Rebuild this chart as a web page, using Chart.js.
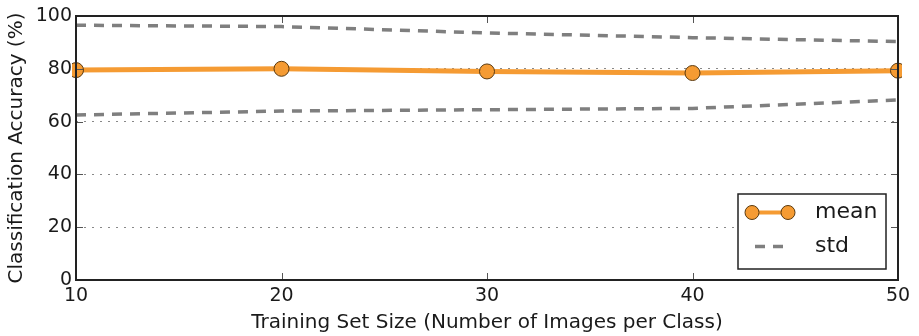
<!DOCTYPE html>
<html>
<head>
<meta charset="utf-8">
<script src="https://cdn.jsdelivr.net/npm/chart.js@4/dist/chart.umd.min.js"></script>
<style>
html,body{margin:0;padding:0;background:#fff;}
#wrap{width:919px;height:336px;position:relative;}
</style>
</head>
<body>
<div id="wrap"><canvas id="c" width="919" height="336"></canvas></div>
<script>
const trainingSizes = [10, 20, 30, 40, 50];
const meanAccuracy = [79.5, 80.0, 79.0, 78.4, 79.3];
const stdUpper = [96.5, 96.0, 93.6, 91.8, 90.3];
const stdLower = [62.5, 64.0, 64.5, 65.0, 68.2];
const yTicks = [0, 20, 40, 60, 80, 100];
const xTicks = [10, 20, 30, 40, 50];

const FONT = "'DejaVu Sans', sans-serif";
const ORANGE = '#f59b33';
const GRAY = '#7f7f7f';
const TEXT = '#1a1a1a';

const pts = arr => trainingSizes.map((x, i) => ({x: x, y: arr[i]}));

const framePlugin = {
  id: 'frame',
  afterDraw(chart) {
    const ctx = chart.ctx, a = chart.chartArea;
    const xs = chart.scales.x, ys = chart.scales.y;
    ctx.save();
    // inward ticks
    ctx.strokeStyle = '#555';
    ctx.lineWidth = 1;
    ctx.beginPath();
    xTicks.forEach(v => {
      const px = Math.round(xs.getPixelForValue(v)) + 0.5;
      ctx.moveTo(px, a.bottom); ctx.lineTo(px, a.bottom - 7);
      ctx.moveTo(px, a.top); ctx.lineTo(px, a.top + 7);
    });
    yTicks.forEach(v => {
      const py = Math.round(ys.getPixelForValue(v)) + 0.5;
      ctx.moveTo(a.left, py); ctx.lineTo(a.left + 7, py);
      ctx.moveTo(a.right, py); ctx.lineTo(a.right - 7, py);
    });
    ctx.stroke();
    // frame
    ctx.strokeStyle = '#222';
    ctx.lineWidth = 2;
    ctx.strokeRect(a.left, a.top, a.right - a.left, a.bottom - a.top);
    // legend
    const bx = 738, by = 194, bw = 148, bh = 75;
    ctx.fillStyle = '#fff';
    ctx.fillRect(bx, by, bw, bh);
    ctx.strokeStyle = '#222';
    ctx.lineWidth = 1.5;
    ctx.strokeRect(bx, by, bw, bh);
    const ds = chart.data.datasets;
    const y1 = 212.5, y2 = 246.5;
    ctx.strokeStyle = ORANGE;
    ctx.lineWidth = 4;
    ctx.beginPath(); ctx.moveTo(752, y1); ctx.lineTo(788, y1); ctx.stroke();
    [752, 788].forEach(cx => {
      ctx.beginPath(); ctx.arc(cx, y1, 7, 0, Math.PI * 2);
      ctx.fillStyle = ORANGE; ctx.fill();
      ctx.strokeStyle = '#5a3a10'; ctx.lineWidth = 1; ctx.stroke();
    });
    ctx.strokeStyle = GRAY;
    ctx.lineWidth = 3.5;
    ctx.setLineDash([10, 8]);
    ctx.beginPath(); ctx.moveTo(755, y2); ctx.lineTo(785, y2); ctx.stroke();
    ctx.setLineDash([]);
    ctx.fillStyle = TEXT;
    ctx.font = '22px ' + FONT;
    ctx.textBaseline = 'middle';
    ctx.textAlign = 'left';
    ctx.fillText(ds[0].label, 815, y1);
    ctx.fillText(ds[1].label, 815, y2);
    ctx.restore();
  }
};

new Chart(document.getElementById('c'), {
  type: 'line',
  data: {
    datasets: [
      {
        label: 'mean',
        data: pts(meanAccuracy),
        borderColor: ORANGE,
        backgroundColor: ORANGE,
        borderWidth: 5,
        pointRadius: 7.5,
        pointBorderColor: '#5a3a10',
        pointBorderWidth: 1,
        pointBackgroundColor: ORANGE,
        tension: 0,
        clip: 4,
        order: 0
      },
      {
        label: 'std',
        data: pts(stdUpper),
        borderColor: GRAY,
        borderWidth: 3.5,
        borderDash: [10, 8],
        pointRadius: 0,
        tension: 0,
        clip: 0,
        order: 1
      },
      {
        label: 'std-lower',
        data: pts(stdLower),
        borderColor: GRAY,
        borderWidth: 3.5,
        borderDash: [10, 8],
        pointRadius: 0,
        tension: 0,
        clip: 0,
        order: 1
      }
    ]
  },
  options: {
    responsive: false,
    animation: false,
    devicePixelRatio: 1,
    layout: {padding: {top: 16, right: 21, left: 0, bottom: 0}},
    plugins: {legend: {display: false}, tooltip: {enabled: false}},
    scales: {
      x: {
        type: 'linear',
        min: 10, max: 50,
        afterFit(s) { s.height = 56; },
        afterBuildTicks(s) { s.ticks = xTicks.map(v => ({value: v})); },
        grid: {display: false, drawTicks: false},
        border: {display: false},
        ticks: {color: TEXT, font: {family: FONT, size: 19}, padding: 5, maxRotation: 0},
        title: {display: true, text: 'Training Set Size (Number of Images per Class)', color: TEXT, font: {family: FONT, size: 20}, padding: {top: 2, bottom: 1}}
      },
      y: {
        min: 0, max: 100,
        afterFit(s) { s.width = 76; },
        afterBuildTicks(s) { s.ticks = yTicks.map(v => ({value: v})); },
        grid: {
          drawTicks: false,
          color: ctx => (ctx.tick && (ctx.tick.value === 0 || ctx.tick.value === 100)) ? 'rgba(0,0,0,0)' : '#888',
          lineWidth: 1
        },
        border: {display: false, dash: [2, 6]},
        ticks: {color: TEXT, font: {family: FONT, size: 19}, padding: 4},
        title: {display: true, text: 'Classification Accuracy (%)', color: TEXT, font: {family: FONT, size: 20}, padding: {top: 5, bottom: 0}}
      }
    }
  },
  plugins: [framePlugin]
});
</script>
</body>
</html>
